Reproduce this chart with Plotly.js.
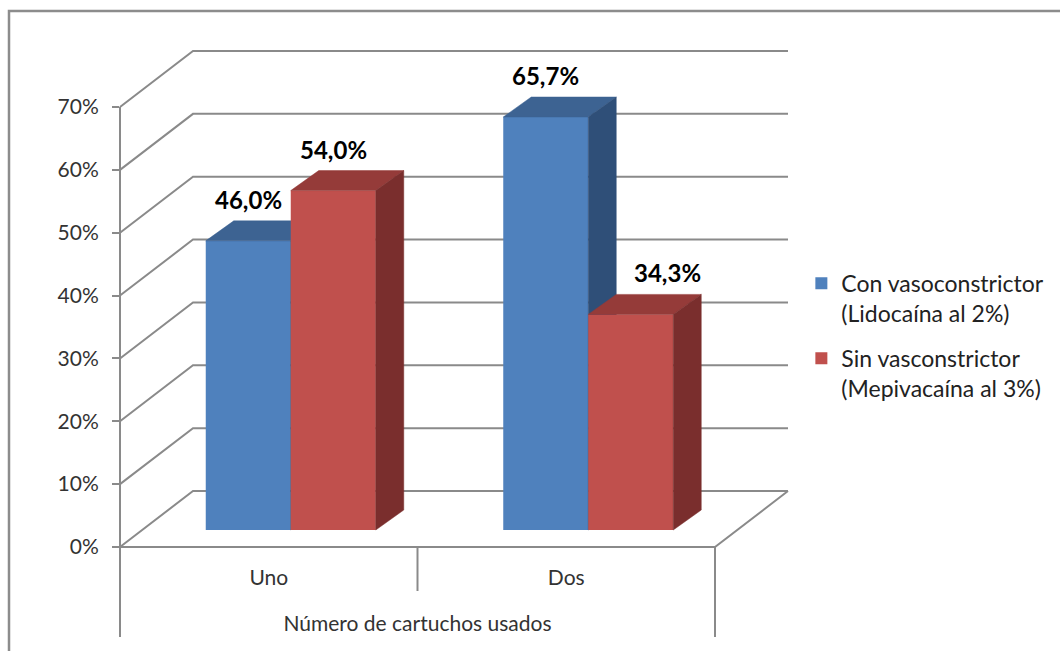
<!DOCTYPE html>
<html><head><meta charset="utf-8">
<script src="https://cdn.plot.ly/plotly-3.0.1.min.js"></script>
<style>html,body{margin:0;padding:0;background:#fff}</style>
</head><body><div id="chart" style="width:1060px;height:651px"></div>
<script>
// ---- data ----
const categories = ['Uno', 'Dos'];
const seriesNames = ['Con vasoconstrictor<br>(Lidocaína al 2%)', 'Sin vasconstrictor<br>(Mepivacaína al 3%)'];
const conVaso = [46.0, 65.7];
const sinVaso = [54.0, 34.3];
const yTicks = [0, 10, 20, 30, 40, 50, 60, 70];
const xAxisTitle = 'Número de cartuchos usados';

// ---- style / geometry (px) ----
const W = 1060, H = 651;
const XL = 120;            // front-left axis x
const CW = 297.5;          // category width on front plane
const Y0 = 547;            // front plane 0%
const PPU = 440 / 70;      // px per percent
const WALL_DX = 73, WALL_DY = 56;   // back wall offset
const BAR_DX = 22, BAR_DY = 17;     // bar front plane offset
const DEPTH_DX = 28, DEPTH_DY = 20; // bar depth
const BAR_W = 85;
const BOTTOM = 637, DIV_BOTTOM = 591;
const LABEL_GAP = 5;
const labelShift = [[0, 0], [0, 37]]; // px x-shifts of data labels [series][cat]
const FONT = 'Lato, "Open Sans", sans-serif';
const GRID = '#8a8a8a';
const colors = [
  {front: '#4F81BD', top: '#3D6392', side: '#2F4F78'},
  {front: '#C0504D', top: '#953B39', side: '#7A2E2D'}
];

const ux = p => p / CW, uy = p => p / PPU;
const xRange = [-XL / CW - 0.5, (W - XL) / CW - 0.5];
const yRange = [-(H - Y0) / PPU, Y0 / PPU];
const nCat = categories.length;
const idx = categories.map((c, i) => i);

const traces = [];

// ---- 3D frame (walls / floor) ----
const fx = [], fy = [];
const wx = ux(WALL_DX), wy = uy(WALL_DY);
yTicks.forEach(t => {
  fx.push(-0.5, -0.5 + wx, nCat - 0.5 + wx, null);
  fy.push(t, t + wy, t + wy, null);
});
fx.push(nCat - 0.5 + wx, nCat - 0.5, -0.5, null);
fy.push(wy, 0, 0, null);
fx.push(nCat - 0.5, nCat - 0.5, null);
fy.push(0, -uy(BOTTOM - Y0), null);
for (let k = 1; k < nCat; k++) {
  fx.push(k - 0.5, k - 0.5, null);
  fy.push(0, -uy(DIV_BOTTOM - Y0), null);
}
traces.push({type: 'scatter', mode: 'lines', x: fx, y: fy, xaxis: 'x', yaxis: 'y',
  line: {color: GRID, width: 2}, hoverinfo: 'skip', showlegend: false});

// helpers so the free axes are drawn
traces.push({type: 'scatter', mode: 'markers', x: yTicks.map(() => -0.5), y: yTicks,
  xaxis: 'x', yaxis: 'y4', marker: {opacity: 0}, hoverinfo: 'skip', showlegend: false});
traces.push({type: 'scatter', mode: 'markers', x: idx, y: idx.map(() => 0),
  xaxis: 'x5', yaxis: 'y', marker: {opacity: 0}, hoverinfo: 'skip', showlegend: false});

// ---- bars ----
const series = [conVaso, sinVaso];
const bw = ux(BAR_W), base = uy(BAR_DY), ddx = ux(DEPTH_DX), ddy = uy(DEPTH_DY);
const annotations = [];
series.forEach((vals, s) => {
  const xa = 'x' + (s + 2), ya = 'y' + (s + 2);
  const xs = idx.map(i => i + ux(BAR_DX));
  const off = s === 0 ? -bw : 0;
  traces.push({type: 'bar', x: xs, y: vals, base: base, width: bw, offset: off,
    xaxis: xa, yaxis: ya, name: seriesNames[s], legendgroup: 'g' + s,
    marker: {color: colors[s].front, line: {width: 0}}, hoverinfo: 'skip'});
  const tx = [], ty = [], sx = [], sy = [];
  vals.forEach((v, i) => {
    const L = xs[i] + off, R = L + bw, T = base + v;
    tx.push(L, R, R + ddx, L + ddx, L, null);
    ty.push(T, T, T + ddy, T + ddy, T, null);
    sx.push(R, R, R + ddx, R + ddx, R, null);
    sy.push(base, T, T + ddy, base + ddy, base, null);
    annotations.push({xref: xa, yref: ya, x: L + bw / 2, y: T + ddy,
      text: '<b>' + v.toFixed(1).replace('.', ',') + '%</b>', showarrow: false,
      yanchor: 'bottom', xanchor: 'center',
      xshift: labelShift[s][i], yshift: LABEL_GAP,
      font: {family: FONT, size: 24, color: '#000'}});
  });
  traces.push({type: 'scatter', mode: 'lines', x: tx, y: ty, fill: 'toself',
    fillcolor: colors[s].top, line: {color: colors[s].top, width: 0.5},
    xaxis: xa, yaxis: ya, hoverinfo: 'skip', showlegend: false});
  traces.push({type: 'scatter', mode: 'lines', x: sx, y: sy, fill: 'toself',
    fillcolor: colors[s].side, line: {color: colors[s].side, width: 0.5},
    xaxis: xa, yaxis: ya, hoverinfo: 'skip', showlegend: false});
});

const hidden = {visible: false, showgrid: false, zeroline: false, fixedrange: true};
const layout = {
  width: W, height: H,
  margin: {l: 0, r: 0, t: 0, b: 0, pad: 0},
  paper_bgcolor: '#fff', plot_bgcolor: 'rgba(0,0,0,0)',
  showlegend: true, hovermode: false,
  xaxis: Object.assign({range: xRange}, hidden),
  yaxis: Object.assign({range: yRange}, hidden),
  xaxis2: Object.assign({range: xRange, overlaying: 'x'}, hidden),
  yaxis2: Object.assign({range: yRange, overlaying: 'y'}, hidden),
  xaxis3: Object.assign({range: xRange, overlaying: 'x'}, hidden),
  yaxis3: Object.assign({range: yRange, overlaying: 'y'}, hidden),
  yaxis4: {
    anchor: 'free', position: XL / W, side: 'left',
    domain: [(H - BOTTOM) / H, (H - (Y0 - 70 * PPU)) / H],
    range: [-(BOTTOM - Y0) / PPU, 70],
    tickvals: yTicks, ticktext: yTicks.map(t => t + '%'),
    ticks: 'outside', ticklen: 7, tickwidth: 2, tickcolor: GRID,
    showline: true, linecolor: GRID, linewidth: 2,
    showgrid: false, zeroline: false, fixedrange: true,
    ticklabelstandoff: 9,
    tickfont: {family: FONT, size: 21, color: '#333'}
  },
  xaxis5: {
    anchor: 'free', position: (H - Y0) / H, side: 'bottom',
    domain: [XL / W, (XL + nCat * CW) / W],
    range: [-0.5, nCat - 0.5], tickvals: idx, ticktext: categories,
    ticks: '', showline: false, showgrid: false, zeroline: false, fixedrange: true,
    ticklabelstandoff: 16,
    tickfont: {family: FONT, size: 21, color: '#333'},
    title: {text: xAxisTitle, font: {family: FONT, size: 21, color: '#333'}, standoff: 28}
  },
  legend: {x: 0.756, xanchor: 'left', y: 0.484, yanchor: 'middle', valign: 'top',
    bgcolor: 'rgba(0,0,0,0)', tracegroupgap: 12,
    font: {family: FONT, size: 23, color: '#222'}},
  annotations: annotations,
  shapes: [{type: 'rect', xref: 'paper', yref: 'paper', x0: 9 / W, x1: 1.2,
    y0: -0.2, y1: 1 - 11 / H, line: {color: '#8c8c8c', width: 2.5}}]
};
Plotly.newPlot('chart', traces, layout, {displayModeBar: false, staticPlot: true});
</script></body></html>
